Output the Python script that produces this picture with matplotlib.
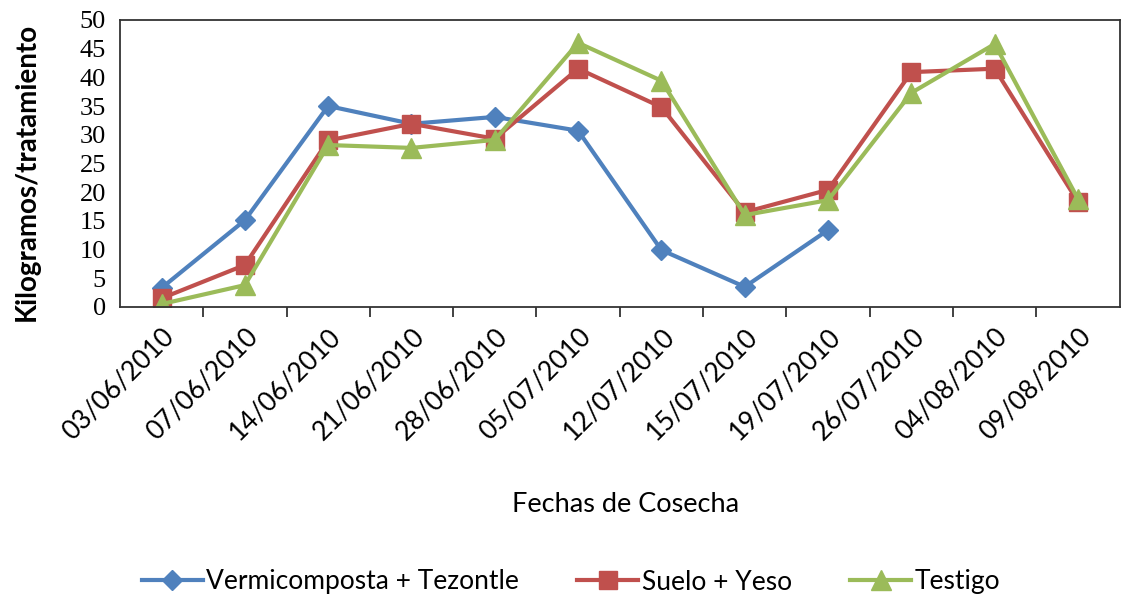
import numpy as np
import matplotlib.pyplot as plt

# harvest dates (x categories)
fechas = ["03/06/2010", "07/06/2010", "14/06/2010", "21/06/2010",
          "28/06/2010", "05/07/2010", "12/07/2010", "15/07/2010",
          "19/07/2010", "26/07/2010", "04/08/2010", "09/08/2010"]

# kg per treatment
vermicomposta = [3.3, 15.1, 35.0, 31.9, 33.1, 30.7, 9.9, 3.5, 13.4, np.nan, np.nan, np.nan]
suelo_yeso = [1.5, 7.3, 29.0, 31.9, 29.3, 41.5, 34.8, 16.5, 20.4, 40.9, 41.5, 18.3]
testigo = [0.5, 3.8, 28.2, 27.7, 29.1, 46.0, 39.4, 16.0, 18.6, 37.3, 45.8, 18.8]

label_font = "Lato"
tick_font = "Liberation Serif"

fig = plt.figure(figsize=(11.31, 6.03), dpi=100)
ax = fig.add_axes([0.106, 0.491, 0.884, 0.476])

x = np.arange(len(fechas))
ax.plot(x, vermicomposta, color="#4F81BD", lw=3, marker="D", ms=10,
        label="Vermicomposta + Tezontle")
ax.plot(x, suelo_yeso, color="#C0504D", lw=3, marker="s", ms=13,
        label="Suelo + Yeso")
ax.plot(x, testigo, color="#9BBB59", lw=3, marker="^", ms=15,
        label="Testigo")

ax.set_xlim(-0.5, len(fechas) - 0.5)
ax.set_ylim(0, 50)
ax.set_yticks(np.arange(0, 51, 5))
ax.tick_params(axis="y", length=0, pad=10)
for t in ax.get_yticklabels():
    t.set_fontfamily(tick_font)
    t.set_fontsize(19)

# category labels centred on points, ticks on the boundaries
ax.set_xticks(x)
ax.set_xticklabels(fechas, rotation=45, ha="right", rotation_mode="anchor",
                   fontsize=19, family=label_font)
ax.tick_params(axis="x", which="major", length=0, pad=12)
ax.set_xticks(np.arange(0.5, len(fechas) - 0.5, 1), minor=True)
ax.tick_params(axis="x", which="minor", length=7, width=1.3, color="#333333",
               direction="out")

for s in ax.spines.values():
    s.set_color("#333333")
    s.set_linewidth(1.3)

ax.set_ylabel("Kilogramos/tratamiento", fontsize=20, fontweight="bold",
              family=label_font)
ax.yaxis.set_label_coords(-0.08, 0.47)
fig.text(0.553, 1 - 505 / 603, "Fechas de Cosecha", fontsize=19.5,
         family=label_font, ha="center", va="center")

fig.legend(loc="center", bbox_to_anchor=(0.505, 1 - 582 / 603), ncol=3,
           frameon=False, prop={"family": label_font, "size": 19},
           handlelength=2.3, columnspacing=2.2, handletextpad=0.15)

fig.savefig("out.png", dpi=100)
